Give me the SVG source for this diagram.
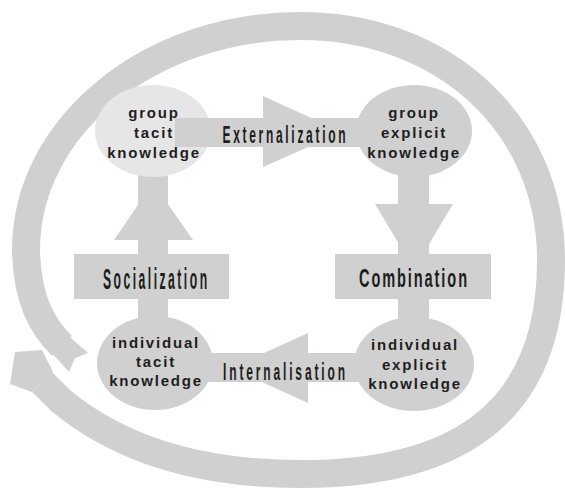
<svg xmlns="http://www.w3.org/2000/svg" width="565" height="489" viewBox="0 0 565 489">
  <style>
    .band { fill: #d0d0d0; }
    .ring { fill: none; stroke: #d0d0d0; stroke-width: 28; stroke-linecap: butt; }
    .node { fill: #d0d0d0; }
    .node-light { fill: #e6e6e6; }
    .nlabel { font-family: "Liberation Sans", Arial, sans-serif; font-weight: bold; font-size: 15px; letter-spacing: 1.8px; fill: #1e1e1e; text-anchor: middle; }
    .plabel { font-family: "Liberation Sans", Arial, sans-serif; font-weight: bold; fill: #1e1e1e; text-anchor: middle; }
  </style>

  <!-- outer knowledge-spiral ring: tail at lower left, runs clockwise, head back at lower left -->
  <g id="cycle">
    <path class="ring" d="M 62 346 C 42 326 27 300 26 250 C 26 126 150 26 300 26 C 445 26 551 125 551 260 C 551 418 452 474 300 474 C 200 474 120 450 60 400 L 42 382"/>
    <!-- notched tail -->
    <polygon class="band" points="64,332 88,353 75,358 69,372 51,352"/>
    <!-- arrowhead -->
    <polygon class="band" points="32,392 10,384 15,352 42,350 53,372"/>
  </g>

  <!-- connectors between the four knowledge states -->
  <g id="connectors">
    <!-- externalization: group tacit -> group explicit -->
    <rect class="band" x="175" y="118" width="200" height="29"/>
    <polygon class="band" points="263,96 342,132 263,167"/>
    <!-- combination: group explicit -> individual explicit -->
    <rect class="band" x="398" y="170" width="31" height="160"/>
    <polygon class="band" points="375,204 453,204 414,269"/>
    <rect class="band" x="335" y="254" width="156" height="45"/>
    <!-- internalisation: individual explicit -> individual tacit -->
    <rect class="band" x="190" y="353" width="180" height="29"/>
    <polygon class="band" points="308,333 308,403 231,368"/>
    <!-- socialization: individual tacit -> group tacit -->
    <rect class="band" x="138" y="170" width="30" height="160"/>
    <polygon class="band" points="114,240 193,240 153,183"/>
    <rect class="band" x="74" y="254" width="155" height="45"/>
  </g>

  <g id="group-tacit">
    <ellipse class="node-light" cx="153" cy="131" rx="58" ry="46"/>
    <rect class="band" x="175" y="118" width="40" height="29"/>
    <text class="nlabel" x="154" y="118">group</text>
    <text class="nlabel" x="154" y="138">tacit</text>
    <text class="nlabel" x="154" y="158">knowledge</text>
  </g>

  <g id="group-explicit">
    <ellipse class="node" cx="414" cy="131" rx="58" ry="46"/>
    <text class="nlabel" x="414" y="118">group</text>
    <text class="nlabel" x="414" y="138">explicit</text>
    <text class="nlabel" x="414" y="158">knowledge</text>
  </g>

  <g id="individual-tacit">
    <ellipse class="node" cx="155" cy="363" rx="58" ry="47"/>
    <text class="nlabel" x="156" y="348">individual</text>
    <text class="nlabel" x="156" y="367">tacit</text>
    <text class="nlabel" x="156" y="386">knowledge</text>
  </g>

  <g id="individual-explicit">
    <ellipse class="node" cx="414" cy="364" rx="60" ry="47"/>
    <text class="nlabel" x="415" y="350">individual</text>
    <text class="nlabel" x="415" y="370">explicit</text>
    <text class="nlabel" x="415" y="389">knowledge</text>
  </g>

  <!-- process labels -->
  <text class="plabel" font-size="24" transform="translate(284,143) scale(0.5,1)" textLength="246" lengthAdjust="spacing">Externalization</text>
  <text class="plabel" font-size="26" transform="translate(413,287) scale(0.56,1)" textLength="193" lengthAdjust="spacing">Combination</text>
  <text class="plabel" font-size="24" transform="translate(284,380) scale(0.5,1)" textLength="244" lengthAdjust="spacing">Internalisation</text>
  <text class="plabel" font-size="29" transform="translate(155,289) scale(0.42,1)" textLength="248" lengthAdjust="spacing">Socialization</text>
</svg>
